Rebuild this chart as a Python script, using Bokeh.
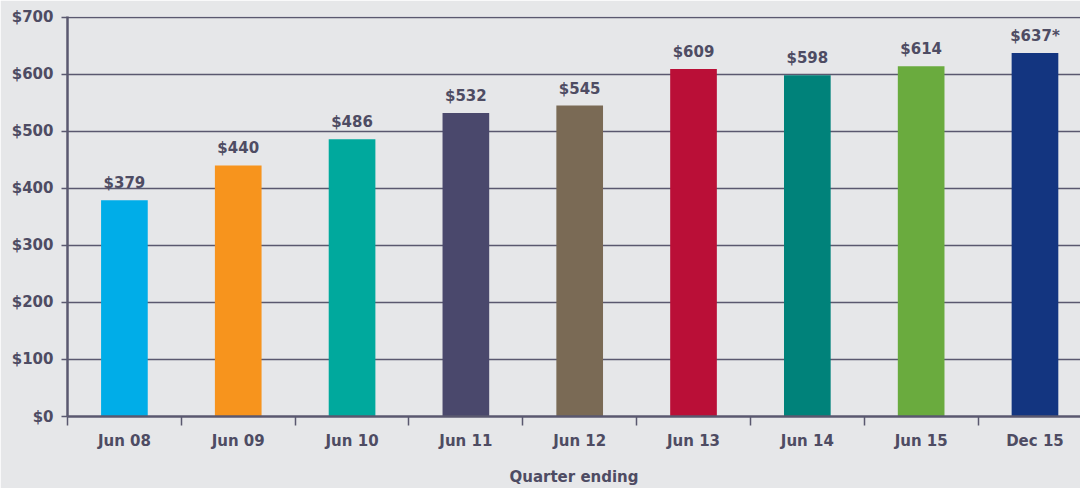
from bokeh.plotting import figure
from bokeh.models import (ColumnDataSource, Range1d, LinearAxis,
                          FixedTicker, LabelSet)
from bokeh.core.properties import value
from bokeh.embed import file_html
from bokeh.resources import INLINE

categories = ["Jun 08", "Jun 09", "Jun 10", "Jun 11", "Jun 12", "Jun 13", "Jun 14", "Jun 15", "Dec 15"]
values = [379, 440, 486, 532, 545, 609, 598, 614, 637]
value_labels = ["$379", "$440", "$486", "$532", "$545", "$609", "$598", "$614", "$637*"]
colors = ["#00ADE8", "#F7941D", "#00A99D", "#4A486C", "#7A6A55", "#BA0F37", "#00827A", "#6AAB3E", "#133580"]
y_ticks = [0, 100, 200, 300, 400, 500, 600, 700]
y_tick_labels = {t: "$" + str(t) for t in y_ticks}
x_title = "Quarter ending"

BG = "#E6E7E9"
TXT = "#4E4C63"
LINE = "#5A586F"
FONT = "DejaVu Sans"

n = len(categories)
centers = [i + 0.5 for i in range(n)]
boundaries = list(range(n + 1))
src = ColumnDataSource(dict(x=centers, cat=categories, val=values, lab=value_labels, col=colors))

p = figure(x_range=Range1d(0, n - 0.1), y_range=Range1d(0, 701), width=1080, height=488,
           output_backend="svg", toolbar_location=None, x_axis_location=None,
           min_border_left=67, min_border_right=0, min_border_top=16, min_border_bottom=10)
p.background_fill_color = BG
p.border_fill_color = BG
p.outline_line_color = None

p.vbar(x="x", top="val", width=0.41, color="col", line_color=None, source=src)

labels = LabelSet(x="x", y="val", text="lab", source=src, text_align="center",
                  text_baseline="bottom", y_offset=8, text_color=TXT,
                  text_font=value(FONT), text_font_style="bold", text_font_size="15px")
p.add_layout(labels)

# grid
p.xgrid.grid_line_color = None
p.ygrid.ticker = FixedTicker(ticks=y_ticks)
p.ygrid.grid_line_color = LINE
p.ygrid.grid_line_width = 1.5

# y axis
ya = p.yaxis[0]
ya.ticker = FixedTicker(ticks=y_ticks)
ya.major_label_overrides = y_tick_labels
ya.axis_line_color = LINE
ya.axis_line_width = 2.5
ya.major_tick_line_color = LINE
ya.major_tick_line_width = 1.5
ya.major_tick_out = 6
ya.major_tick_in = 0
ya.minor_tick_line_color = None
ya.major_label_standoff = 8
ya.major_label_text_color = TXT
ya.major_label_text_font = FONT
ya.major_label_text_font_style = "bold"
ya.major_label_text_font_size = "15px"

# x axis: labels at bar centres, ticks (minor) at category boundaries
xa = LinearAxis(ticker=FixedTicker(ticks=centers, minor_ticks=boundaries))
xa.major_label_overrides = {c: name for c, name in zip(centers, categories)}
xa.axis_line_color = LINE
xa.axis_line_width = 2.5
xa.major_tick_line_color = None
xa.major_tick_out = 0
xa.major_tick_in = 0
xa.minor_tick_line_color = LINE
xa.minor_tick_line_width = 1.5
xa.minor_tick_out = 9
xa.minor_tick_in = 0
xa.major_label_standoff = 6
xa.major_label_text_color = TXT
xa.major_label_text_font = FONT
xa.major_label_text_font_style = "bold"
xa.major_label_text_font_size = "15px"
xa.axis_label = x_title
xa.axis_label_standoff = 15
xa.axis_label_text_color = TXT
xa.axis_label_text_font = FONT
xa.axis_label_text_font_style = "bold"
xa.axis_label_text_font_size = "15px"
p.add_layout(xa, "below")

open("out.html", "w").write(file_html(p, INLINE))
